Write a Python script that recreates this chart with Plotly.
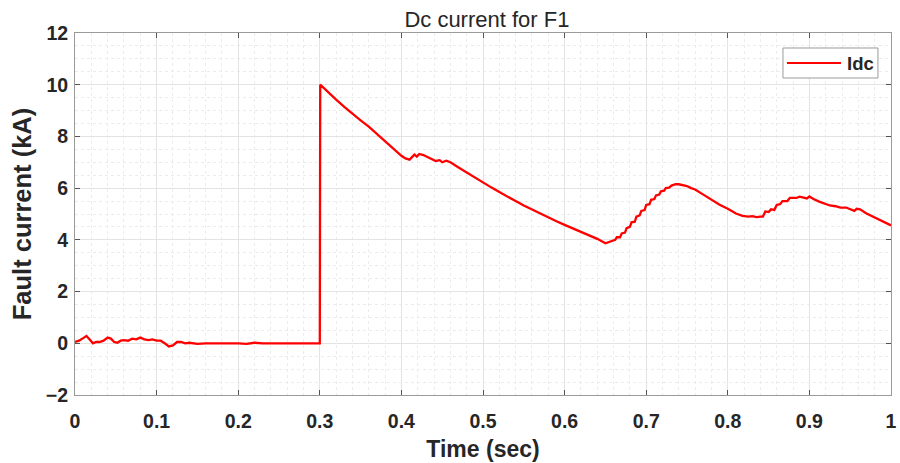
import plotly.graph_objects as go

time_s = [0.000, 0.005, 0.010, 0.014, 0.018, 0.022, 0.026, 0.030, 0.035, 0.040, 0.044, 0.048,
          0.052, 0.056, 0.060, 0.065, 0.070, 0.075, 0.080, 0.085, 0.090, 0.095, 0.100, 0.105,
          0.110, 0.115, 0.120, 0.125, 0.130, 0.135, 0.140, 0.150, 0.160, 0.170, 0.180, 0.190,
          0.200, 0.210, 0.220, 0.230, 0.240, 0.250, 0.260, 0.270, 0.280, 0.290, 0.300, 0.3005,
          0.310, 0.320, 0.330, 0.340, 0.350, 0.360, 0.370, 0.380, 0.390, 0.400, 0.405, 0.410,
          0.413, 0.416, 0.419, 0.422, 0.427, 0.432, 0.437, 0.442, 0.447, 0.450, 0.455, 0.460,
          0.470, 0.480, 0.490, 0.500, 0.510, 0.520, 0.530, 0.540, 0.550, 0.560, 0.570, 0.580,
          0.590, 0.600, 0.610, 0.620, 0.630, 0.640, 0.650, 0.655, 0.660, 0.662, 0.664, 0.668,
          0.670, 0.674, 0.676, 0.680, 0.682, 0.686, 0.688, 0.692, 0.694, 0.698, 0.700, 0.704,
          0.706, 0.710, 0.712, 0.716, 0.718, 0.722, 0.724, 0.728, 0.731, 0.736, 0.740, 0.745,
          0.750, 0.755, 0.760, 0.770, 0.780, 0.790, 0.800, 0.810, 0.818, 0.825, 0.830, 0.835,
          0.840, 0.843, 0.846, 0.850, 0.853, 0.857, 0.860, 0.864, 0.867, 0.873, 0.876, 0.884,
          0.888, 0.893, 0.897, 0.900, 0.905, 0.912, 0.918, 0.925, 0.932, 0.938, 0.945, 0.950,
          0.955, 0.958, 0.962, 0.970, 0.980, 0.990, 1.000]

idc_ka = [0.05, 0.10, 0.20, 0.28, 0.15, 0.00, 0.05, 0.05, 0.10, 0.22, 0.18, 0.05,
          0.02, 0.10, 0.12, 0.10, 0.18, 0.15, 0.22, 0.15, 0.12, 0.15, 0.10, 0.10,
          0.00, -0.12, -0.08, 0.05, 0.05, 0.00, 0.02, -0.02, 0.00, 0.00, 0.00, 0.02,
          0.00, -0.02, 0.02, 0.00, 0.00, 0.02, 0.00, 0.02, 0.00, 0.00, 0.00, 10.0,
          9.70, 9.42, 9.14, 8.87, 8.62, 8.38, 8.10, 7.80, 7.52, 7.25, 7.15, 7.10,
          7.20, 7.30, 7.22, 7.32, 7.28, 7.20, 7.10, 7.05, 7.08, 7.00, 7.06, 7.00,
          6.80, 6.60, 6.40, 6.22, 6.03, 5.85, 5.66, 5.50, 5.33, 5.17, 5.01, 4.86,
          4.72, 4.58, 4.45, 4.32, 4.18, 4.04, 3.87, 3.92, 4.00, 4.00, 4.10, 4.10,
          4.25, 4.28, 4.45, 4.50, 4.68, 4.70, 4.90, 4.95, 5.12, 5.15, 5.35, 5.38,
          5.55, 5.58, 5.72, 5.75, 5.88, 5.90, 6.00, 6.02, 6.10, 6.15, 6.15, 6.12,
          6.08, 6.00, 5.95, 5.75, 5.55, 5.36, 5.20, 5.02, 4.93, 4.90, 4.92, 4.88,
          4.90, 4.90, 5.10, 5.08, 5.18, 5.16, 5.35, 5.38, 5.50, 5.50, 5.62, 5.62,
          5.67, 5.62, 5.60, 5.68, 5.58, 5.48, 5.42, 5.33, 5.30, 5.25, 5.25, 5.20,
          5.12, 5.20, 5.18, 5.02, 4.87, 4.72, 4.56]

x_ticks = [0, 0.1, 0.2, 0.3, 0.4, 0.5, 0.6, 0.7, 0.8, 0.9, 1]
x_tick_labels = ["0", "0.1", "0.2", "0.3", "0.4", "0.5", "0.6", "0.7", "0.8", "0.9", "1"]
y_ticks = [-2, 0, 2, 4, 6, 8, 10, 12]
series_name = "Idc"

FONT = "Liberation Sans, Arial, Helvetica, sans-serif"
TXT = "#262626"
LINE_COLOR = "#ff0000"

fig = go.Figure()
fig.add_trace(go.Scatter(x=time_s, y=idc_ka, mode="lines", name=series_name,
                         line=dict(color=LINE_COLOR, width=2.3), showlegend=False))

axis_common = dict(
    showline=True, linecolor="#9a9a9a", linewidth=1, mirror="ticks",
    ticks="inside", ticklen=5, tickcolor="#555555", tickwidth=1,
    showgrid=True, gridcolor="#e3e3e3", gridwidth=1, zeroline=False,
    tickfont=dict(family=FONT, size=19.5, color=TXT, weight="bold"),
    automargin=False,
)

fig.update_xaxes(range=[0, 1], tickvals=x_ticks, ticktext=x_tick_labels,
                 ticklabelstandoff=9,
                 title=dict(text="<b>Time (sec)</b>", font=dict(family=FONT, size=23, color=TXT), standoff=9),
                 minor=dict(dtick=0.02, showgrid=True, gridcolor="#ececec", griddash="dot", ticks=""),
                 **axis_common)
fig.update_yaxes(range=[-2, 12], tickvals=y_ticks,
                 ticklabelstandoff=2,
                 title=dict(text="<b>Fault current (kA)</b>", font=dict(family=FONT, size=25.5, color=TXT), standoff=6),
                 minor=dict(dtick=0.5, showgrid=True, gridcolor="#ececec", griddash="dot", ticks=""),
                 **axis_common)

# legend drawn as a boxed key in the top-right corner of the plot area
fig.add_shape(type="rect", xref="paper", yref="paper", x0=0.8676, x1=0.984, y0=0.8757, y1=0.9586,
              line=dict(color="#9a9a9a", width=1), fillcolor="white", layer="above")
fig.add_shape(type="line", xref="paper", yref="paper", x0=0.8725, x1=0.9387, y0=0.917, y1=0.917,
              line=dict(color=LINE_COLOR, width=2), layer="above")
fig.add_annotation(xref="paper", yref="paper", x=0.9436, y=0.917, xanchor="left", yanchor="middle",
                   text="<b>" + series_name + "</b>", showarrow=False,
                   font=dict(family=FONT, size=18.5, color=TXT))

fig.update_layout(
    width=900, height=463,
    margin=dict(l=75, r=9, t=33, b=68),
    paper_bgcolor="white", plot_bgcolor="white",
    title=dict(text="Dc current for F1", x=0.541, xanchor="center", y=0.958, yanchor="middle",
               xref="container", yref="container",
               font=dict(family=FONT, size=22, color=TXT)),
    showlegend=False,
)

fig.write_html("out.html")
